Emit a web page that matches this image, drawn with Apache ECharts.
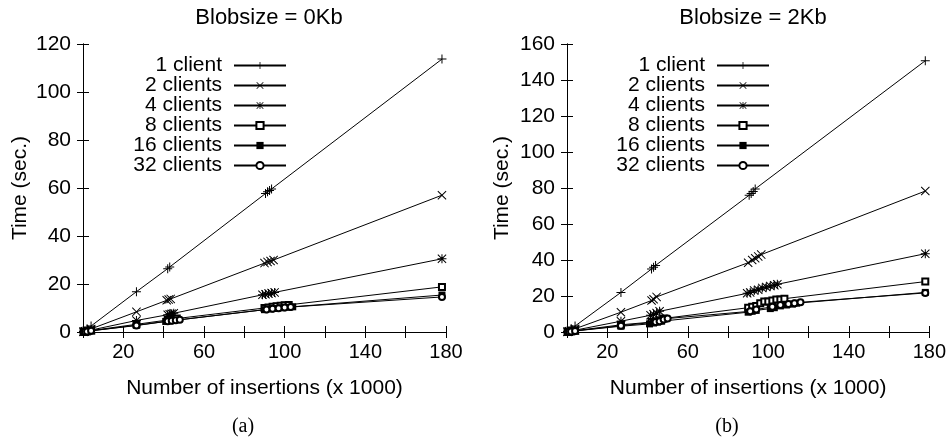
<!DOCTYPE html>
<html>
<head>
<meta charset="utf-8">
<script src="https://cdn.jsdelivr.net/npm/echarts@6/dist/echarts.min.js"></script>
<style>
  html, body { margin: 0; padding: 0; background: #fff; }
  #chart { width: 949px; height: 442px; }
</style>
</head>
<body>
<div id="chart"></div>
<script>
  // series names, same in both panels
  var clientNames = ['1 client', '2 clients', '4 clients', '8 clients', '16 clients', '32 clients'];

  // tick labels
  var xTickLabels = [20, 60, 100, 140, 180];
  var yTickLabelsA = [0, 20, 40, 60, 80, 100, 120];
  var yTickLabelsB = [0, 20, 40, 60, 80, 100, 120, 140, 160];

  // panel (a) Blobsize = 0Kb : [insertions x1000, seconds]
  var a1 = [[0.3,0.2],[1,0.6],[2,1.2],[4,2.5],[26.5,16.8],[42,26.4],[43,27.1],[90.5,57.7],[91.5,58.4],[92.5,59],[93.5,59.6],[178,113.7]];
  var a2 = [[0.3,0.1],[1,0.3],[2,0.6],[4,1.3],[26.5,8.4],[41.5,13.2],[42.5,13.5],[43.5,13.8],[90,28.7],[91.5,29.2],[93,29.6],[94.5,30],[178,57]];
  var a4 = [[0.3,0.1],[1,0.2],[2,0.4],[4,0.8],[26.5,4.8],[42,7.2],[43,7.4],[44,7.6],[45,7.8],[89,15.5],[90.5,15.7],[92,16],[93.5,16.2],[95,16.5],[178,30.5]];
  var a8 = [[0.3,0.1],[1,0.1],[2,0.3],[4,0.6],[26.5,3.2],[42,5],[43.5,5.2],[45,5.4],[46.5,5.6],[90,10],[92,10.2],[94,10.5],[96,10.7],[98,10.9],[100,11.1],[102,11.3],[178,18.8]];
  var a16 = [[0.3,0],[1,0.1],[2,0.2],[4,0.5],[26.5,2.8],[41,4.4],[43,4.6],[45,4.8],[90,9.3],[93,9.6],[96,9.8],[99,10.1],[102,10.3],[104,10.5],[178,15.4]];
  var a32 = [[0.3,0],[1,0.1],[2,0.2],[4,0.5],[26.5,2.7],[42,4.5],[44,4.7],[46,4.9],[48,5.1],[91,9.4],[94,9.7],[97,9.9],[100,10.2],[103,10.4],[178,14.6]];

  // panel (b) Blobsize = 2Kb
  var b1 = [[0.3,0.3],[1,0.8],[2,1.6],[4,3.3],[26.8,22],[42,35],[43,36],[44,37],[90.5,76],[91.5,77],[92.5,78],[93.5,79.5],[178,150.7]];
  var b2 = [[0.3,0.1],[1,0.4],[2,0.9],[4,1.8],[26.8,11],[42,17.5],[43,18.2],[44.5,19.5],[90,38.5],[92,40],[93.5,41],[95,42],[96.5,43],[178,78.3]];
  var b4 = [[0.3,0.1],[1,0.3],[2,0.5],[4,1],[26.8,6],[41.5,9.3],[43,9.8],[44.5,10.5],[46,11.5],[89.5,21.5],[91,22],[93,23],[95,23.5],[97,24.5],[99,25],[101,25.5],[103,26],[104.5,26.5],[178,43.5]];
  var b8 = [[0.3,0.1],[1,0.2],[2,0.4],[4,0.7],[26.8,4],[42,5.5],[44,6],[46,6.5],[48,7.5],[90,13.5],[92,14],[94,14.5],[96,16],[98,17],[100,17],[102,17.5],[104,18],[106,18],[108,18.5],[178,28]];
  var b16 = [[0.3,0],[1,0.1],[2,0.3],[4,0.6],[26.8,3.2],[41,4.5],[43,5],[45,5.5],[47,6],[90,11],[92,11.5],[94,12],[101,13],[103,13.5],[106,14.5],[109,15],[112,15.5],[114,16],[178,22]];
  var b32 = [[0.3,0],[1,0.1],[2,0.3],[4,0.6],[26.8,3.5],[44,5.5],[46,6],[48,7],[50,7.5],[91,11.5],[94,12.5],[102,14],[106,15],[110,15.5],[113,16],[116,16.5],[178,21.7]];

  var panelData = [[a1, a2, a4, a8, a16, a32], [b1, b2, b4, b8, b16, b32]];

  // gnuplot style point types
  var PLUS = 'path://M4,0h1v4h4v1h-4v4h-1v-4h-4v-1h4z';
  var CROSS = 'path://M0,0.7L0.7,0L4.5,3.8L8.3,0L9,0.7L5.2,4.5L9,8.3L8.3,9L4.5,5.2L0.7,9L0,8.3L3.8,4.5Z';
  var STAR = 'path://M4,0h1v4h4v1h-4v4h-1v-4h-4v-1h4z M0,0.7L0.7,0L4.5,3.8L8.3,0L9,0.7L5.2,4.5L9,8.3L8.3,9L4.5,5.2L0.7,9L0,8.3L3.8,4.5Z';
  var marks = [
    { symbol: PLUS, size: 9, border: 0 },
    { symbol: CROSS, size: 9, border: 0 },
    { symbol: STAR, size: 9, border: 0 },
    { symbol: 'emptyRect', size: 6, border: 1 },
    { symbol: 'rect', size: 7, border: 0 },
    { symbol: 'emptyCircle', size: 6, border: 1 }
  ];

  var FONT = 'Liberation Sans';
  var grids = [
    { left: 83, right: 503, top: 44, bottom: 110 },
    { left: 567, right: 19, top: 44, bottom: 110 }
  ];
  var yMax = [yTickLabelsA[yTickLabelsA.length - 1], yTickLabelsB[yTickLabelsB.length - 1]];

  var xAxes = [], yAxes = [], series = [], legends = [];

  grids.forEach(function (g, p) {
    // bottom axis with labels
    xAxes.push({
      type: 'value', gridIndex: p, min: 0, max: 180, interval: 20,
      name: 'Number of insertions (x 1000)', nameLocation: 'middle', nameGap: 46,
      nameTextStyle: { fontFamily: FONT, fontSize: 21, color: '#000' },
      axisLine: { lineStyle: { color: '#000', width: 1 } },
      axisTick: { inside: true, length: 6, lineStyle: { color: '#000' } },
      axisLabel: {
        fontFamily: FONT, fontSize: 20, color: '#000', margin: 10,
        formatter: function (v) { return xTickLabels.indexOf(v) >= 0 ? String(v) : ''; }
      },
      splitLine: { show: false }
    });
    // top mirror
    xAxes.push({
      type: 'value', gridIndex: p, position: 'top', min: 0, max: 180, interval: 20,
      axisLine: { lineStyle: { color: '#000', width: 1 } },
      axisTick: { inside: true, length: 6, lineStyle: { color: '#000' } },
      axisLabel: { show: false }, splitLine: { show: false }
    });
    yAxes.push({
      type: 'value', gridIndex: p, min: 0, max: yMax[p], interval: 20,
      name: 'Time (sec.)', nameLocation: 'middle', nameGap: p === 0 ? 52 : 54,
      nameTextStyle: { fontFamily: FONT, fontSize: 21, color: '#000' },
      axisLine: { show: true, lineStyle: { color: '#000', width: 1 } },
      axisTick: { show: true, inside: true, length: 6, lineStyle: { color: '#000' } },
      axisLabel: { fontFamily: FONT, fontSize: 21, color: '#000', margin: 12 },
      splitLine: { show: false }
    });
    // right mirror
    yAxes.push({
      type: 'value', gridIndex: p, position: 'right', min: 0, max: yMax[p], interval: 20,
      axisLine: { show: true, lineStyle: { color: '#000', width: 1 } },
      axisTick: { show: true, inside: true, length: 6, lineStyle: { color: '#000' } },
      axisLabel: { show: false }, splitLine: { show: false }
    });

    clientNames.forEach(function (name, i) {
      series.push({
        type: 'line', name: name,
        xAxisIndex: p * 2, yAxisIndex: p * 2,
        data: panelData[p][i],
        symbol: marks[i].symbol, symbolSize: marks[i].size, symbolKeepAspect: true,
        showAllSymbol: true,
        lineStyle: { color: '#000', width: 1 },
        itemStyle: { color: '#000', borderColor: '#000', borderWidth: marks[i].border },
        emphasis: { disabled: true }
      });
    });

    legends.push({
      data: clientNames,
      orient: 'vertical', align: 'right',
      right: p === 0 ? 657 : 174, top: 50,
      itemWidth: 52, itemHeight: 9, itemGap: -1,
      textStyle: { fontFamily: FONT, fontSize: 21, color: '#000', lineHeight: 20, padding: [0, 7, 0, 0] },
      selectedMode: false
    });
  });

  var chart = echarts.init(document.getElementById('chart'));
  chart.setOption({
    animation: false,
    backgroundColor: '#fff',
    title: [
      { text: 'Blobsize = 0Kb', left: 264, top: 2, textAlign: 'center',
        textStyle: { fontFamily: FONT, fontSize: 22, fontWeight: 'normal', color: '#000' } },
      { text: 'Blobsize = 2Kb', left: 748, top: 2, textAlign: 'center',
        textStyle: { fontFamily: FONT, fontSize: 22, fontWeight: 'normal', color: '#000' } },
      { text: '(a)', left: 238, top: 412, textAlign: 'center',
        textStyle: { fontFamily: 'Liberation Serif', fontSize: 20, fontWeight: 'normal', color: '#000' } },
      { text: '(b)', left: 722, top: 412, textAlign: 'center',
        textStyle: { fontFamily: 'Liberation Serif', fontSize: 20, fontWeight: 'normal', color: '#000' } }
    ],
    grid: grids,
    xAxis: xAxes,
    yAxis: yAxes,
    legend: legends,
    series: series
  });
</script>
</body>
</html>
